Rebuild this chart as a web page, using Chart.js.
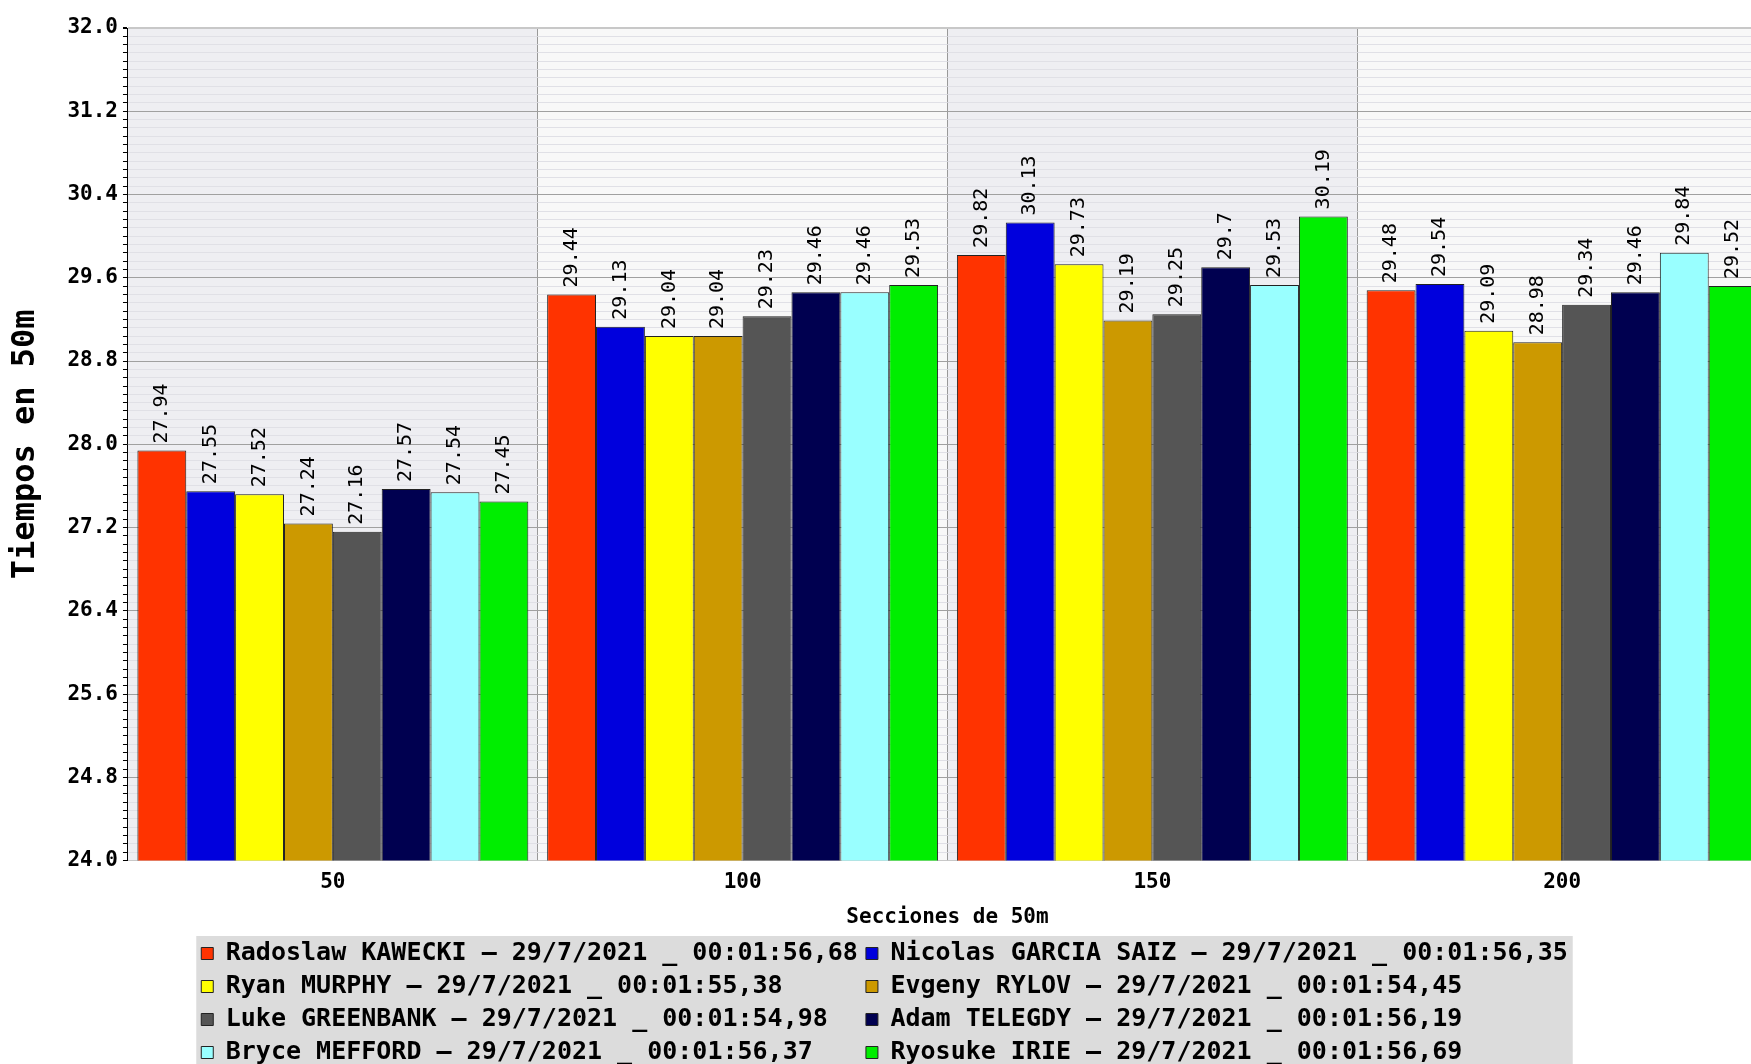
<!DOCTYPE html>
<html lang="es">
<head>
<meta charset="UTF-8">
<title>Tiempos en 50m</title>
<script src="https://cdn.jsdelivr.net/npm/chart.js"></script>
<style>
  html, body { margin: 0; padding: 0; overflow: hidden; background: #fff; }
  #chart { display: block; }
</style>
</head>
<body>
<canvas id="chart" width="1780" height="1075"></canvas>
<script>
  // secciones de 50m
  const sections = ['50', '100', '150', '200'];

  const swimmers = [
    'Radoslaw KAWECKI – 29/7/2021 _ 00:01:56,68',
    'Nicolas GARCIA SAIZ – 29/7/2021 _ 00:01:56,35',
    'Ryan MURPHY – 29/7/2021 _ 00:01:55,38',
    'Evgeny RYLOV – 29/7/2021 _ 00:01:54,45',
    'Luke GREENBANK – 29/7/2021 _ 00:01:54,98',
    'Adam TELEGDY – 29/7/2021 _ 00:01:56,19',
    'Bryce MEFFORD – 29/7/2021 _ 00:01:56,37',
    'Ryosuke IRIE – 29/7/2021 _ 00:01:56,69'
  ];

  const colors = ['#ff3300', '#0000dd', '#ffff00', '#cc9900', '#555555', '#000050', '#99ffff', '#00ee00'];

  // tiempos por seccion
  const kawecki  = [27.94, 29.44, 29.82, 29.48];
  const garcia   = [27.55, 29.13, 30.13, 29.54];
  const murphy   = [27.52, 29.04, 29.73, 29.09];
  const rylov    = [27.24, 29.04, 29.19, 28.98];
  const greenbank = [27.16, 29.23, 29.25, 29.34];
  const telegdy  = [27.57, 29.46, 29.7, 29.46];
  const mefford  = [27.54, 29.46, 29.53, 29.84];
  const irie     = [27.45, 29.53, 30.19, 29.52];

  const series = [kawecki, garcia, murphy, rylov, greenbank, telegdy, mefford, irie];

  // eje y
  const yMin = 24.0;
  const yMax = 32.0;
  const minorStep = 0.08;
  const minorPerMajor = 10;

  const FONT = "'DejaVu Sans Mono', 'Liberation Mono', monospace";

  // alternating column backgrounds + grey box behind the legend
  const backdrop = {
    id: 'backdrop',
    beforeDraw(chart) {
      const ctx = chart.ctx;
      const xs = chart.scales.x;
      const area = chart.chartArea;
      const w = xs.width / sections.length;
      ctx.save();
      sections.forEach((s, i) => {
        const left = xs.getPixelForValue(i) - w / 2;
        ctx.fillStyle = i % 2 === 0 ? '#eeeef2' : '#f8f8f8';
        ctx.fillRect(left, area.top, w, area.bottom - area.top);
      });
      const boxes = chart.legend.legendHitBoxes;
      if (boxes && boxes.length) {
        let l = Infinity, r = -Infinity, t = Infinity;
        boxes.forEach(b => {
          l = Math.min(l, b.left);
          r = Math.max(r, b.left + b.width);
          t = Math.min(t, b.top);
        });
        ctx.fillStyle = '#dcdcdc';
        ctx.fillRect(l - 5, t - 5, r - l + 10, chart.height);
      }
      ctx.restore();
    }
  };

  // rotated value labels above each bar
  const valueLabels = {
    id: 'valueLabels',
    afterDatasetsDraw(chart) {
      const ctx = chart.ctx;
      ctx.save();
      ctx.font = '20px ' + FONT;
      ctx.fillStyle = '#000';
      ctx.textAlign = 'left';
      ctx.textBaseline = 'middle';
      chart.data.datasets.forEach((ds, di) => {
        chart.getDatasetMeta(di).data.forEach((bar, i) => {
          ctx.save();
          ctx.translate(bar.x, bar.y - 7);
          ctx.rotate(-Math.PI / 2);
          ctx.fillText(String(ds.data[i]), 0, 0);
          ctx.restore();
        });
      });
      ctx.restore();
    }
  };

  new Chart(document.getElementById('chart'), {
    type: 'bar',
    data: {
      labels: sections,
      datasets: swimmers.map((name, i) => ({
        label: name,
        data: series[i],
        backgroundColor: colors[i],
        borderColor: '#222222',
        borderWidth: 1,
        categoryPercentage: 0.954,
        barPercentage: 1.0
      }))
    },
    options: {
      responsive: false,
      devicePixelRatio: 1,
      animation: false,
      layout: { padding: { top: 28, right: 13, left: 2, bottom: 0 } },
      plugins: {
        tooltip: { enabled: false },
        legend: {
          position: 'bottom',
          labels: {
            color: '#000',
            font: { family: FONT, size: 25, weight: 'bold' },
            boxWidth: 12,
            boxHeight: 12,
            padding: 8,
            generateLabels(chart) {
              const items = Chart.defaults.plugins.legend.labels.generateLabels(chart);
              // pad so the two columns line up
              items.forEach((it, i) => { it.text = it.text.padEnd(i % 2 ? 45 : 42, ' '); });
              return items;
            }
          }
        }
      },
      scales: {
        x: {
          grid: { color: '#999999', drawTicks: false, offset: true },
          border: { color: '#c8c8c8' },
          ticks: { color: '#000', padding: 9, font: { family: FONT, size: 21, weight: 'bold' } },
          title: {
            display: true,
            text: 'Secciones de 50m',
            color: '#000',
            padding: { top: 1, bottom: 3 },
            font: { family: FONT, size: 21, weight: 'bold' }
          }
        },
        y: {
          min: yMin,
          max: yMax,
          ticks: {
            stepSize: minorStep,
            autoSkip: false,
            color: '#000',
            padding: 5,
            font: { family: FONT, size: 21, weight: 'bold' },
            callback: (v, i) => i % minorPerMajor === 0 ? Number(v).toFixed(1) : ''
          },
          grid: {
            tickLength: 5,
            tickColor: '#000',
            color: ctx => {
              if (ctx.index === Math.round((yMax - yMin) / minorStep)) return '#c8c8c8';
              return ctx.index % minorPerMajor === 0 ? '#a0a0a0' : '#e0e0e6';
            },
            lineWidth: ctx => ctx.index === Math.round((yMax - yMin) / minorStep) ? 2 : 1
          },
          border: { color: '#000' },
          title: {
            display: true,
            text: 'Tiempos en 50m',
            color: '#000',
            padding: { top: 4, bottom: 18 },
            font: { family: FONT, size: 32, weight: 'bold' }
          }
        }
      }
    },
    plugins: [backdrop, valueLabels]
  });
</script>
</body>
</html>
